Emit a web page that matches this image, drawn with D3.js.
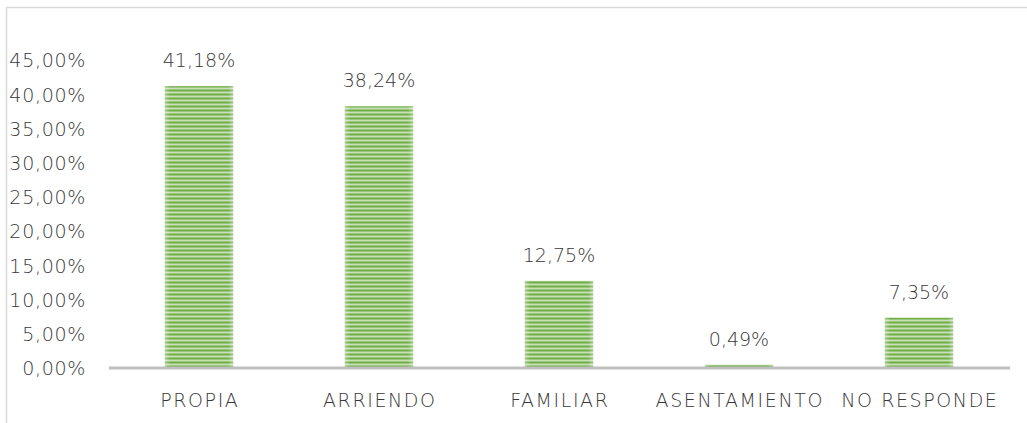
<!DOCTYPE html>
<html><head><meta charset="utf-8">
<script src="https://cdn.jsdelivr.net/npm/d3@7/dist/d3.min.js"></script>
<style>body{margin:0;background:#fff;} svg{display:block;}</style>
</head><body>
<svg id="c" width="1027" height="423"></svg>
<script>
const categories = ["PROPIA","ARRIENDO","FAMILIAR","ASENTAMIENTO","NO RESPONDE"];
const values = [41.18, 38.24, 12.75, 0.49, 7.35];
const yTicks = [0,5,10,15,20,25,30,35,40,45];

const svg = d3.select("#c");
const font = "'DejaVu Sans', sans-serif";
const fw = 200;
const fs = 19;
const txt = "#383838";
const fmt = v => v.toFixed(2).replace(".", ",") + "%";

const defs = svg.append("defs");
const pat = defs.append("pattern").attr("id","stripes").attr("patternUnits","userSpaceOnUse")
  .attr("width",8).attr("height",4);
pat.append("rect").attr("width",8).attr("height",4).attr("fill","#c6e0b4");
pat.append("rect").attr("y",1.5).attr("width",8).attr("height",2).attr("fill","#6fad46");
const g = defs.append("linearGradient").attr("id","edge");
g.append("stop").attr("offset","0").attr("stop-color","#fff").attr("stop-opacity",0.35);
g.append("stop").attr("offset","0.08").attr("stop-color","#fff").attr("stop-opacity",0);
g.append("stop").attr("offset","0.92").attr("stop-color","#fff").attr("stop-opacity",0);
g.append("stop").attr("offset","1").attr("stop-color","#fff").attr("stop-opacity",0.35);

// chart border
svg.append("path").attr("d","M6.5,423 L6.5,7.5 L1027,7.5").attr("fill","none").attr("stroke","#d9d9d9").attr("stroke-width",1.5);

const x = d3.scaleBand().domain(categories).range([109,1009]).paddingInner(0.62).paddingOuter(0.31);
const y = d3.scaleLinear().domain([0,45]).range([368,60]);

// y labels
const yAxis = d3.axisLeft(y).tickValues(yTicks).tickFormat(d => fmt(d)).tickSize(0).tickPadding(0);
const ya = svg.append("g").attr("transform","translate(86,0)").call(yAxis);
ya.select(".domain").remove();
ya.selectAll("text").attr("font-family",font).attr("font-weight",fw).attr("font-size",fs).attr("fill",txt)
  .attr("dy","0.36em").attr("letter-spacing",0.7);

// bars
const bars = svg.append("g");
bars.selectAll("rect.b").data(values).join("rect").attr("class","b")
  .attr("x",(d,i)=>x(categories[i])).attr("width",x.bandwidth())
  .attr("y",d=>y(d)).attr("height",d=>Math.max(1.5, y(0)-y(d)))
  .attr("fill","url(#stripes)");
bars.selectAll("rect.e").data(values).join("rect").attr("class","e")
  .attr("x",(d,i)=>x(categories[i])).attr("width",x.bandwidth())
  .attr("y",d=>y(d)).attr("height",d=>Math.max(1.5, y(0)-y(d)))
  .attr("fill","url(#edge)");

// x axis
const xAxis = d3.axisBottom(x).tickSize(0).tickPadding(0);
const xa = svg.append("g").attr("transform","translate(0,368)").call(xAxis);
xa.select(".domain").attr("stroke","#bfbfbf").attr("stroke-width",3).attr("d","M109,0H1010");
xa.selectAll("text").attr("font-family",font).attr("font-weight",fw).attr("font-size",fs).attr("fill",txt)
  .attr("dy",null).attr("y",39).attr("letter-spacing",1.6).attr("dx",0.8);

// data labels
svg.append("g").selectAll("text").data(values).join("text")
  .attr("x",(d,i)=>x(categories[i])+x.bandwidth()/2).attr("y",d=>y(d)-19)
  .attr("text-anchor","middle").attr("font-family",font).attr("font-weight",fw).attr("font-size",fs).attr("fill",txt)
  .text(d=>fmt(d));
</script>
</body></html>
